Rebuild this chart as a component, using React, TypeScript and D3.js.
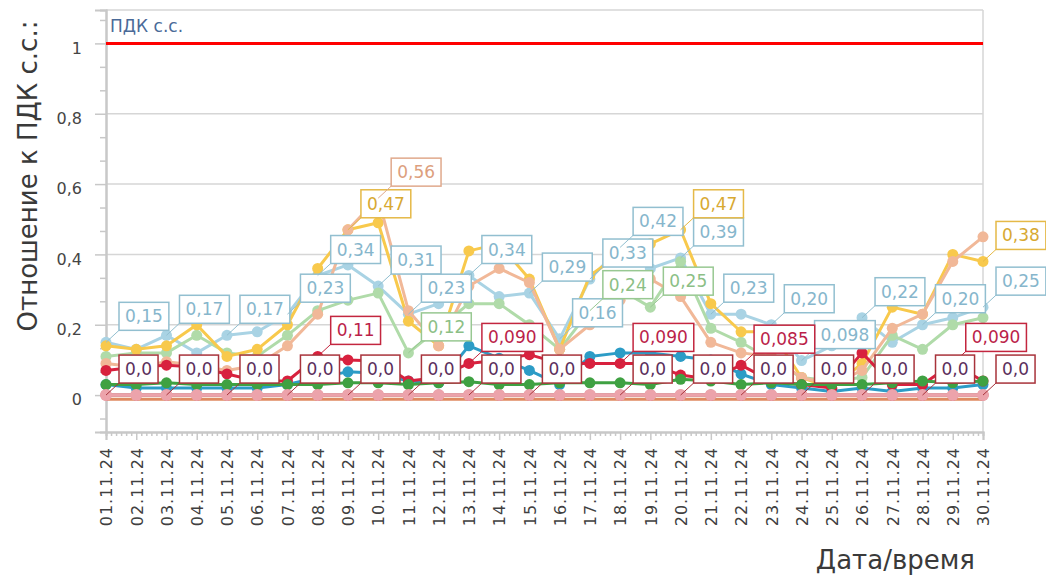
import React from "react";
import * as d3 from "d3";

// categories
const dates = [
  "01.11.24", "02.11.24", "03.11.24", "04.11.24", "05.11.24", "06.11.24",
  "07.11.24", "08.11.24", "09.11.24", "10.11.24", "11.11.24", "12.11.24",
  "13.11.24", "14.11.24", "15.11.24", "16.11.24", "17.11.24", "18.11.24",
  "19.11.24", "20.11.24", "21.11.24", "22.11.24", "23.11.24", "24.11.24",
  "25.11.24", "26.11.24", "27.11.24", "28.11.24", "29.11.24", "30.11.24",
];

const yTicks = [0, 0.2, 0.4, 0.6, 0.8, 1];
const pdkValue = 1;
const pdkTitle = "ПДК с.с.";

// series values (ratio to ПДК)
const lightBlueValues = [0.15, 0.13, 0.17, 0.12, 0.17, 0.18, 0.23, 0.34, 0.37, 0.31, 0.23, 0.26, 0.34, 0.28, 0.29, 0.16, 0.33, 0.42, 0.36, 0.39, 0.23, 0.23, 0.20, 0.098, 0.14, 0.22, 0.15, 0.20, 0.22, 0.25];
const yellowValues = [0.14, 0.13, 0.14, 0.20, 0.11, 0.13, 0.20, 0.36, 0.47, 0.49, 0.21, 0.14, 0.41, 0.43, 0.33, 0.13, 0.34, 0.40, 0.43, 0.47, 0.26, 0.18, 0.18, 0.05, 0.02, 0.09, 0.25, 0.23, 0.40, 0.38];
const peachValues = [0.09, 0.08, 0.095, 0.085, 0.07, 0.085, 0.14, 0.23, 0.47, 0.56, 0.24, 0.14, 0.31, 0.36, 0.32, 0.13, 0.20, 0.27, 0.33, 0.28, 0.15, 0.12, 0.11, 0.05, 0.03, 0.07, 0.19, 0.23, 0.38, 0.45];
const lightGreenValues = [0.11, 0.12, 0.12, 0.17, 0.12, 0.11, 0.17, 0.24, 0.27, 0.29, 0.12, 0.19, 0.26, 0.26, 0.20, 0.13, 0.24, 0.30, 0.25, 0.38, 0.19, 0.15, 0.10, 0.05, 0.04, 0.05, 0.17, 0.13, 0.20, 0.22];
const tealValues = [0.03, 0.02, 0.02, 0.02, 0.02, 0.02, 0.03, 0.05, 0.066, 0.062, 0.04, 0.035, 0.14, 0.105, 0.07, 0.03, 0.11, 0.12, 0.12, 0.11, 0.10, 0.06, 0.03, 0.02, 0.01, 0.02, 0.01, 0.02, 0.02, 0.03];
const crimsonValues = [0.07, 0.08, 0.085, 0.08, 0.06, 0.04, 0.04, 0.11, 0.10, 0.097, 0.04, 0.05, 0.090, 0.10, 0.115, 0.09, 0.09, 0.090, 0.09, 0.057, 0.045, 0.085, 0.04, 0.03, 0.02, 0.12, 0.03, 0.03, 0.090, 0.04];
const greenValues = [0.03, 0.03, 0.035, 0.03, 0.03, 0.03, 0.03, 0.03, 0.035, 0.035, 0.03, 0.035, 0.038, 0.03, 0.03, 0.035, 0.035, 0.035, 0.03, 0.045, 0.04, 0.03, 0.035, 0.03, 0.03, 0.03, 0.035, 0.04, 0.035, 0.04];
const orangeValues = [-0.012, -0.012, -0.012, -0.012, -0.012, -0.012, -0.012, -0.012, -0.012, -0.012, -0.012, -0.012, -0.012, -0.012, -0.012, -0.012, -0.012, -0.012, -0.012, -0.012, -0.012, -0.012, -0.012, -0.012, -0.012, -0.012, -0.012, -0.012, -0.012, -0.012];
const darkRedValues = [0, 0, 0, 0, 0, 0, 0, 0, 0, 0, 0, 0, 0, 0, 0, 0, 0, 0, 0, 0, 0, 0, 0, 0, 0, 0, 0, 0, 0, 0];
const pinkValues = [0, 0, 0, 0, 0, 0, 0, 0, 0, 0, 0, 0, 0, 0, 0, 0, 0, 0, 0, 0, 0, 0, 0, 0, 0, 0, 0, 0, 0, 0];

// which points carry a value label (indices into dates)
const lightBlueLabels = [0, 2, 4, 6, 7, 9, 10, 12, 14, 15, 16, 17, 19, 20, 22, 23, 25, 27, 29];
const yellowLabels = [8, 19, 29];
const peachLabels = [9];
const lightGreenLabels = [10, 16, 18];
const crimsonLabels = [7, 12, 17, 21, 28];
const darkRedLabels = [0, 2, 4, 6, 8, 10, 12, 14, 17, 19, 21, 23, 25, 27, 29];

const W = 1046;
const H = 578;
const plot = { left: 106, right: 983, top: 10, bottom: 432 };
const FONT = "DejaVu Sans, Verdana, sans-serif";
const gridColor = "#d6d6d6";
const axisColor = "#c8c8c8";

const fmtValue = (v: number) => d3.format(".2r")(v).replace(".", ",");

class App extends React.Component {
  svg: SVGSVGElement | null = null;

  componentDidMount() {
    this.drawChart();
  }

  shouldComponentUpdate() {
    return false;
  }

  drawChart() {
    const root = d3.select(this.svg);
    root.selectAll("*").remove();

    const x = d3.scaleLinear()
      .domain([0, dates.length - 1])
      .range([plot.left, plot.right]);

    const y = d3.scaleLinear()
      .domain([-0.105, 1.095])
      .range([plot.bottom, plot.top]);

    // grid lines and plot frame
    root.append("g")
      .selectAll("line")
      .data(yTicks)
      .enter().append("line")
      .attr("x1", plot.left).attr("x2", plot.right)
      .attr("y1", (d) => y(d)).attr("y2", (d) => y(d))
      .attr("stroke", gridColor)
      .attr("stroke-width", 1.5);

    root.append("line")
      .attr("x1", plot.left).attr("x2", plot.right)
      .attr("y1", plot.top).attr("y2", plot.top)
      .attr("stroke", gridColor).attr("stroke-width", 1.5);
    root.append("line")
      .attr("x1", plot.right).attr("x2", plot.right)
      .attr("y1", plot.top).attr("y2", plot.bottom)
      .attr("stroke", gridColor).attr("stroke-width", 1.5);

    // Y axis: major + minor ticks
    const yMinor = d3.range(-1, 17).filter((k) => k % 3 !== 0).map((k) => (k * 0.2) / 3);
    const yAxisMinor = d3.axisLeft(y).tickValues(yMinor).tickSize(6).tickFormat(() => "");
    const yAxisMajor = d3.axisLeft(y)
      .tickValues(yTicks)
      .tickSize(11)
      .tickPadding(13)
      .tickFormat((d) => (d === 1 ? "1" : d3.format(".1f")(d as number).replace(".", ",")).replace(/^0,0$/, "0"));

    const gy = root.append("g").attr("transform", "translate(" + plot.left + ",0)");
    gy.append("g").call(yAxisMinor);
    gy.append("g").call(yAxisMajor);
    gy.selectAll(".domain").attr("stroke", axisColor).attr("stroke-width", 2);
    gy.selectAll(".tick line").attr("stroke", axisColor).attr("stroke-width", 1.5);
    gy.selectAll(".tick text")
      .attr("font-family", FONT)
      .attr("font-size", 16)
      .attr("fill", "#454545")
      .attr("dy", "0.6em");

    // X axis: days + 4-hour minor ticks
    const xMinor = d3.range(0, (dates.length - 1) * 6 + 1).filter((k) => k % 6 !== 0).map((k) => k / 6);
    const xAxisMinor = d3.axisBottom(x).tickValues(xMinor).tickSize(4).tickFormat(() => "");
    const xAxisMajor = d3.axisBottom(x)
      .tickValues(d3.range(dates.length))
      .tickSize(8)
      .tickFormat((d) => dates[d as number]);

    const gx = root.append("g").attr("transform", "translate(0," + plot.bottom + ")");
    gx.append("g").call(xAxisMinor);
    gx.append("g").call(xAxisMajor);
    gx.selectAll(".domain").attr("stroke", axisColor).attr("stroke-width", 2);
    gx.selectAll(".tick line").attr("stroke", axisColor).attr("stroke-width", 1.5);
    gx.selectAll(".tick text")
      .attr("font-family", FONT)
      .attr("font-size", 16)
      .attr("letter-spacing", 1)
      .attr("fill", "#404040")
      .attr("text-anchor", "end")
      .attr("transform", "rotate(-90)")
      .attr("x", -15)
      .attr("y", 0)
      .attr("dy", "0.36em");

    // ПДК constant line
    root.append("line")
      .attr("x1", plot.left).attr("x2", plot.right)
      .attr("y1", y(pdkValue)).attr("y2", y(pdkValue))
      .attr("stroke", "#ff0000")
      .attr("stroke-width", 3);
    root.append("text")
      .attr("x", plot.left + 4)
      .attr("y", y(pdkValue) - 11)
      .attr("font-family", FONT)
      .attr("font-size", 17)
      .attr("fill", "#4a6a98")
      .text(pdkTitle);

    // series, bottom to top
    const series = [
      { values: lightBlueValues, color: "#a9d3e4", r: 5.5, labels: lightBlueLabels, border: "#92bfd0", text: "#86b6cc" },
      { values: lightGreenValues, color: "#b0dba9", r: 5.5, labels: lightGreenLabels, border: "#98c892", text: "#8cbf86" },
      { values: yellowValues, color: "#f8c94c", r: 5.5, labels: yellowLabels, border: "#e5b947", text: "#d8a932" },
      { values: peachValues, color: "#f1b898", r: 5.5, labels: peachLabels, border: "#e0a98c", text: "#dd9f7e" },
      { values: tealValues, color: "#2c9cc6", r: 5.5, labels: [], border: "#2c9cc6", text: "#2c9cc6" },
      { values: crimsonValues, color: "#d8213e", r: 5.5, labels: crimsonLabels, border: "#c3263f", text: "#bb1f4a" },
      { values: greenValues, color: "#3fa142", r: 5.5, labels: [], border: "#3fa142", text: "#3fa142" },
      { values: orangeValues, color: "#df8a60", r: 0, labels: [], border: "#df8a60", text: "#df8a60" },
      { values: darkRedValues, color: "#b2363c", r: 5.5, labels: darkRedLabels, border: "#a8333b", text: "#5c2f5c" },
      { values: pinkValues, color: "#eca3ab", r: 6, labels: [], border: "#eca3ab", text: "#eca3ab" },
    ];

    const line = d3.line<number>()
      .x((d, i) => x(i))
      .y((d) => y(d));

    const seriesLayer = root.append("g");
    series.forEach((s) => {
      const g = seriesLayer.append("g");
      g.append("path")
        .datum(s.values)
        .attr("d", line)
        .attr("fill", "none")
        .attr("stroke", s.color)
        .attr("stroke-width", 3)
        .attr("stroke-linejoin", "round");
      if (s.r > 0) {
        g.selectAll("circle")
          .data(s.values)
          .enter().append("circle")
          .attr("cx", (d, i) => x(i))
          .attr("cy", (d) => y(d))
          .attr("r", s.r)
          .attr("fill", s.color);
      }
    });

    // value labels with connectors
    const labelLayer = root.append("g");
    series.forEach((s) => {
      s.labels.forEach((i) => {
        const px = x(i);
        const py = y(s.values[i]);
        const bx = px + 13;
        const by = py - 12;
        const g = labelLayer.append("g");
        g.append("line")
          .attr("x1", px).attr("y1", py)
          .attr("x2", bx).attr("y2", by)
          .attr("stroke", s.border)
          .attr("stroke-width", 1);
        const rect = g.append("rect")
          .attr("fill", "#ffffff")
          .attr("stroke", s.border)
          .attr("stroke-width", 1.5);
        const t = g.append("text")
          .attr("x", bx + 6)
          .attr("y", by - 8)
          .attr("font-family", FONT)
          .attr("font-size", 17)
          .attr("fill", s.text)
          .text(fmtValue(s.values[i]));
        const w = (t.node() as SVGTextElement).getComputedTextLength();
        rect.attr("x", bx).attr("y", by - 28).attr("width", w + 12).attr("height", 28);
      });
    });

    // axis titles
    root.append("text")
      .attr("transform", "translate(37,176) rotate(-90)")
      .attr("text-anchor", "middle")
      .attr("font-family", FONT)
      .attr("font-size", 26)
      .attr("fill", "#3a3a3a")
      .text("Отношение к ПДК с.с.:");

    root.append("text")
      .attr("x", 975)
      .attr("y", 569)
      .attr("text-anchor", "end")
      .attr("font-family", FONT)
      .attr("font-size", 26)
      .attr("fill", "#3a3a3a")
      .text("Дата/время");
  }

  render() {
    return (
      <div style={{ position: "absolute", left: 0, top: 0, width: W, height: H, overflow: "hidden", background: "#fff" }}>
        <svg
          width={W}
          height={H}
          ref={(elem) => { this.svg = elem; }}
        ></svg>
      </div>
    );
  }
}

export default App;
